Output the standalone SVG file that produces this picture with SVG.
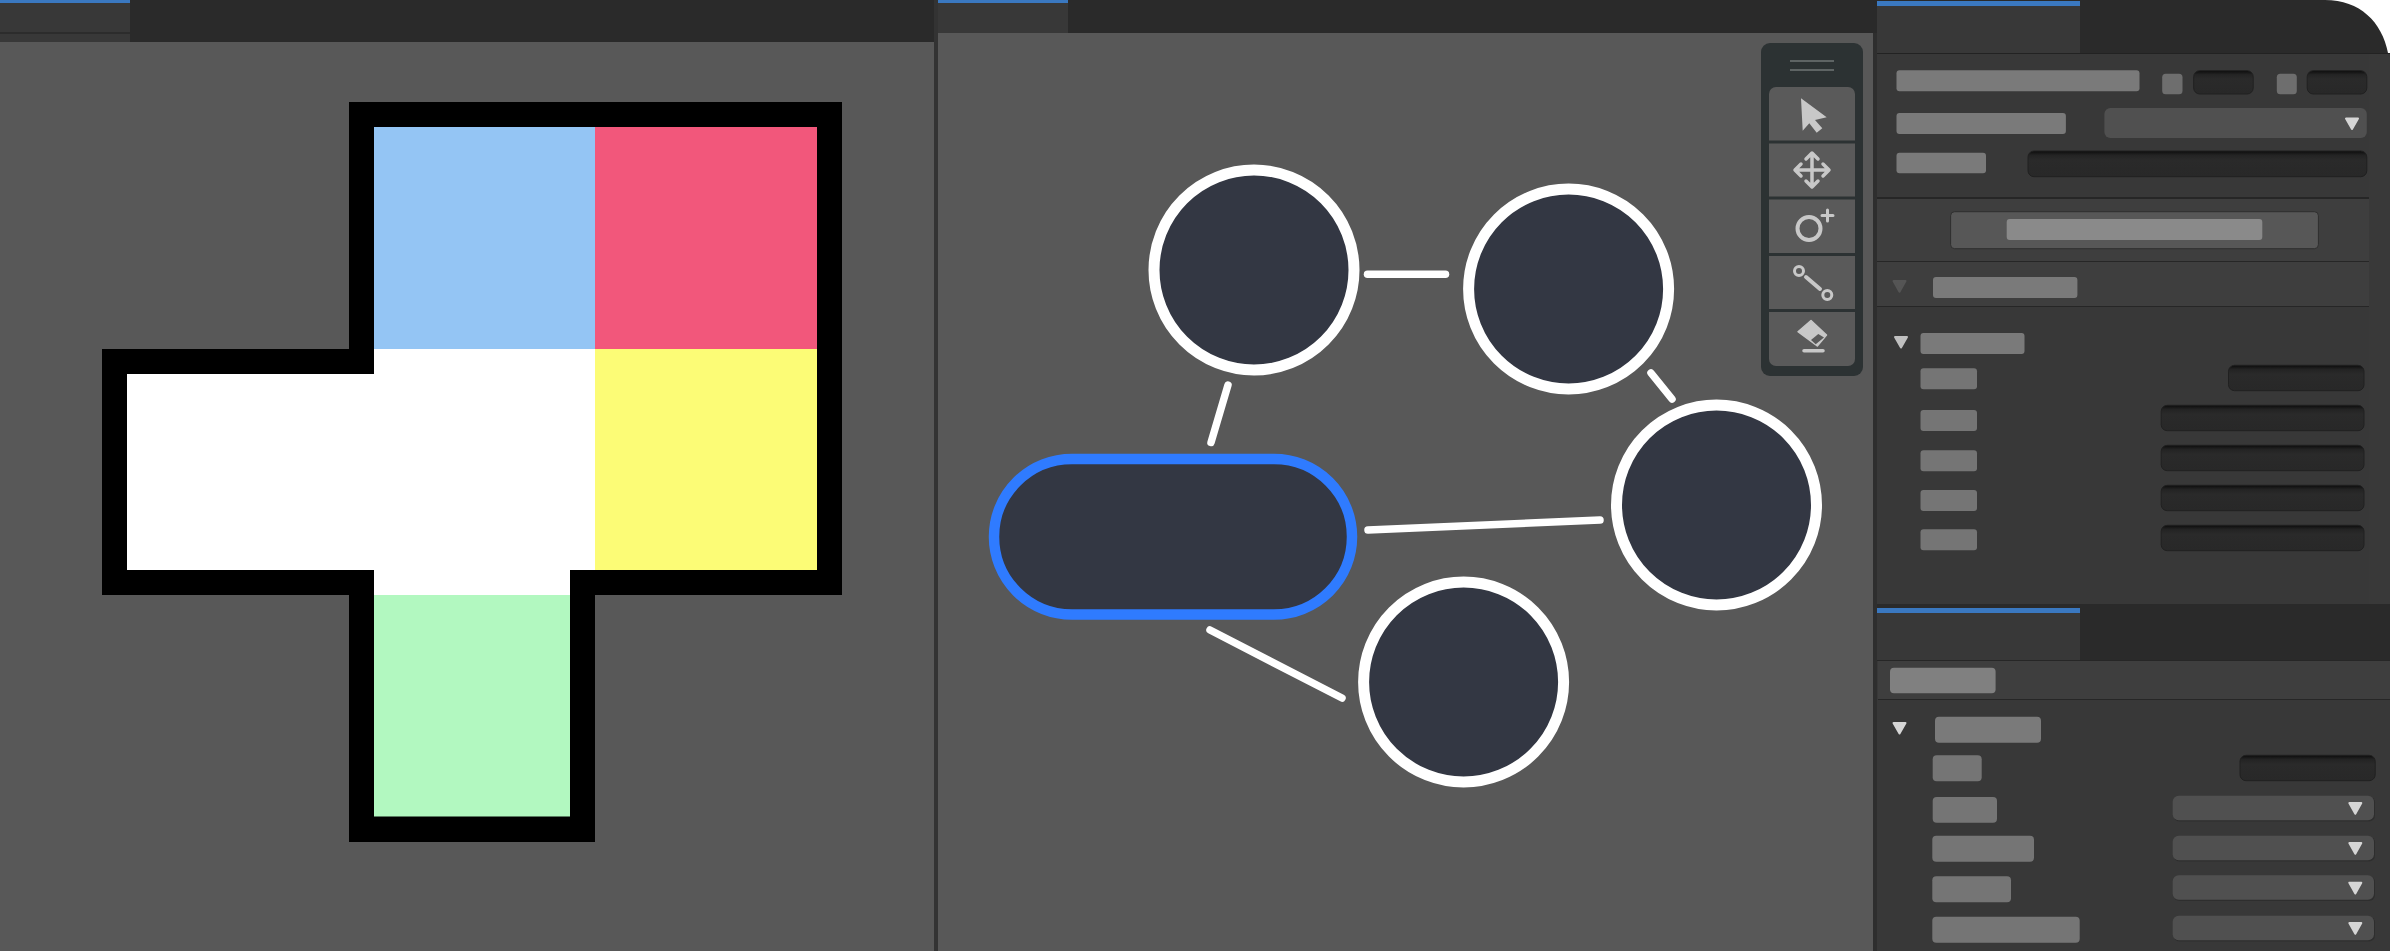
<svg xmlns="http://www.w3.org/2000/svg" width="2390" height="951" viewBox="0 0 2390 951">
<style>
.lb{fill:#7a7a7a}
.lc{fill:#757575}
.in{fill:url(#inset);stroke:#202020;stroke-width:1}
.sel{fill:#505050}
.sh{fill:#2e2e2e}
.tri{fill:#d6d6d6;stroke:#d6d6d6;stroke-width:2;stroke-linejoin:round}
.blue{fill:#3a78c0}
.tab{fill:#383838}
.node{fill:#333743;stroke:#fff;stroke-width:11}
.edge{fill:none;stroke:#fff;stroke-width:7.500;stroke-linecap:round}
.ic{fill:none;stroke:#c8c8c8;stroke-linecap:round;stroke-linejoin:round}
.icf{fill:#c8c8c8}
.btn{fill:#5a5a5a}
.div{fill:#262626}
</style>
<defs>
<linearGradient id="inset" x1="0" y1="0" x2="0" y2="1">
<stop offset="0" stop-color="#0c0c0c"/><stop offset="0.16" stop-color="#232323"/><stop offset="0.35" stop-color="#2a2a2a"/><stop offset="1" stop-color="#282828"/>
</linearGradient>
</defs>
<rect width="2390" height="951" fill="#383838"/>
<g id="left-panel">
<rect x="0" y="0" width="938" height="42" fill="#2a2a2a"/>
<rect x="0" y="0" width="130" height="42" class="tab"/>
<rect x="0" y="32" width="130" height="2" fill="#2c2c2c"/>
<rect x="0" y="0" width="130" height="3" class="blue"/>
<rect x="0" y="42" width="934" height="909" fill="#585858"/>
<rect x="934" y="0" width="4" height="951" fill="#333"/>
</g>
<g id="shape">
<path d="M349 102H842V595H595V842H349V595H102V349H349Z" fill="#000"/>
<rect x="374" y="127" width="221" height="222" fill="#94c5f4"/>
<rect x="595" y="127" width="222" height="222" fill="#f2577b"/>
<rect x="595" y="349" width="222" height="221" fill="#fcfc76"/>
<path d="M374 349H595V570H570V595H374V570H127V374H374Z" fill="#fff"/>
<rect x="374" y="595" width="196" height="221.500" fill="#b2f8c0"/>
</g>
<g id="graph-panel">
<rect x="938" y="0" width="939" height="33" fill="#2a2a2a"/>
<rect x="938" y="0" width="130" height="33" class="tab"/>
<rect x="938" y="0" width="130" height="3" class="blue"/>
<rect x="938" y="33" width="935" height="918" fill="#585858"/>
<rect x="1873" y="33" width="4" height="918" fill="#2e2e2e"/>
</g>
<g id="connectors">
<path class="edge" d="M1367.500 274.300H1445.500"/>
<path class="edge" d="M1228 385L1211 442.500"/>
<path class="edge" d="M1651 373L1672 399"/>
<path class="edge" d="M1368 530L1600 520"/>
<path class="edge" d="M1210 630L1342 698"/>
</g>
<g id="node-top-left"><circle class="node" cx="1254" cy="270" r="100"/></g>
<g id="node-top-right"><circle class="node" cx="1568.600" cy="289" r="100"/></g>
<g id="node-right"><circle class="node" cx="1716.500" cy="505" r="100"/></g>
<g id="node-bottom"><circle class="node" cx="1463.600" cy="682" r="100"/></g>
<g id="node-selected"><rect x="994" y="459" width="358" height="155.500" rx="78" fill="#333743" stroke="#2f7bff" stroke-width="10.500"/></g>
<g id="toolbar">
<rect x="1761" y="43" width="102" height="333" rx="9" fill="#2c3233"/>
<path d="M1790 61H1834M1790 70H1834" stroke="#5e6464" stroke-width="2"/>
<path class="btn" d="M1769 140.500V94a7 7 0 0 1 7-7H1848a7 7 0 0 1 7 7V140.500Z"/>
<rect class="btn" x="1769" y="143.500" width="86" height="53"/>
<rect class="btn" x="1769" y="199.500" width="86" height="53.500"/>
<rect class="btn" x="1769" y="256" width="86" height="53"/>
<path class="btn" d="M1769 312H1855V359a7 7 0 0 1-7 7H1776a7 7 0 0 1-7-7Z"/>
<polygon class="icf" points="1801,98.300 1826.700,117.300 1815,120 1822.300,128.300 1816.700,132.700 1809.300,123.300 1802.700,130.700"/>
<path class="ic" stroke-width="3.500" d="M1796 170H1828M1812 154V186M1806 159L1812 153L1818 159M1806 181L1812 187L1818 181M1801 164L1795 170L1801 176M1823 164L1829 170L1823 176"/>
<circle class="ic" stroke-width="4" cx="1809" cy="228.500" r="11.500"/>
<path class="ic" stroke-width="3" d="M1822 215.500H1833M1827.500 210V221"/>
<circle class="ic" stroke-width="3" cx="1799" cy="271" r="4.500"/>
<circle class="ic" stroke-width="3" cx="1827.300" cy="295" r="4.500"/>
<path class="ic" stroke-width="4" d="M1806 277L1820 289"/>
<polygon class="icf" stroke="#c8c8c8" stroke-width="1.500" stroke-linejoin="round" points="1811,320.500 1826.500,335 1817.300,346 1798,331.700"/>
<polygon points="1818.300,334 1824,337.500 1815.700,344.300 1811,340" fill="#5a5a5a"/>
<path class="ic" stroke-width="3.500" d="M1804 350.700H1823"/>
</g>
<g id="properties-top">
<rect x="1877" y="0" width="513" height="53" fill="#2a2a2a"/>
<rect x="1877" y="1" width="203" height="52" class="tab"/>
<rect x="1877" y="1" width="203" height="5" class="blue"/>
<path d="M2325 0H2390V53H2388C2382 22 2360 0 2325 0Z" fill="#fff"/>
<rect x="1877" y="53" width="513" height="551" fill="#393939"/>
<rect x="1877" y="53" width="492" height="551" fill="#383838"/>
<rect x="1877" y="53" width="513" height="1" fill="#222"/>
<rect x="1877" y="198" width="492" height="63" fill="#3e3e3e"/>
<rect x="1877" y="262" width="492" height="44" fill="#3e3e3e"/>
<rect class="div" x="1877" y="197" width="492" height="2"/>
<rect class="div" x="1877" y="261" width="492" height="1"/>
<rect class="div" x="1877" y="306" width="492" height="1"/>
<rect class="lb" x="1896.500" y="70.300" width="243" height="21" rx="3"/>
<rect x="2162.200" y="73.700" width="20.300" height="20.600" rx="3.500" fill="#6e6e6e"/>
<rect class="in" x="2193.700" y="70.700" width="59.500" height="23.300" rx="6"/>
<rect x="2276.800" y="73.700" width="20" height="20.600" rx="3.500" fill="#6e6e6e"/>
<rect class="in" x="2307.200" y="70.700" width="59.600" height="23.300" rx="6"/>
<rect class="lb" x="1896.500" y="113" width="169.400" height="21" rx="3"/>
<rect class="sel" x="2104.400" y="108" width="262.400" height="30" rx="6"/>
<polygon class="tri" points="2346,118.500 2358,118.500 2352,129"/>
<rect class="lb" x="1896.500" y="152.700" width="89.500" height="20.600" rx="3"/>
<rect class="in" x="2028" y="151" width="338.800" height="25.700" rx="6"/>
<rect x="1950.600" y="211.700" width="367.800" height="37" rx="4" fill="#575757" stroke="#2e2e2e"/>
<rect x="2006.700" y="219" width="255.600" height="21" rx="3" fill="#8a8a8a"/>
<polygon points="1893.500,281 1905.500,281 1899.500,291.700" fill="#555" stroke="#555" stroke-width="2" stroke-linejoin="round"/>
<rect class="lb" x="1933" y="277" width="144.400" height="21" rx="3"/>
<polygon class="tri" style="fill:#c0c0c0;stroke:#c0c0c0" points="1895,337 1907,337 1901,347.500"/>
<rect class="lb" x="1920.500" y="333" width="104" height="21" rx="3"/>
<rect class="lc" x="1920.500" y="368.300" width="56.500" height="21" rx="3"/>
<rect class="lc" x="1920.500" y="410" width="56.500" height="21" rx="3"/>
<rect class="lc" x="1920.500" y="450.300" width="56.500" height="21" rx="3"/>
<rect class="lc" x="1920.500" y="490" width="56.500" height="21" rx="3"/>
<rect class="lc" x="1920.500" y="529.300" width="56.500" height="21" rx="3"/>
<rect class="in" x="2228.500" y="365.300" width="135.500" height="25.400" rx="6"/>
<rect class="in" x="2161.200" y="405.300" width="202.800" height="25.400" rx="6"/>
<rect class="in" x="2161.200" y="445.300" width="202.800" height="25.400" rx="6"/>
<rect class="in" x="2161.200" y="485.300" width="202.800" height="25.400" rx="6"/>
<rect class="in" x="2161.200" y="525.300" width="202.800" height="25.400" rx="6"/>
</g>
<g id="properties-bottom">
<rect x="1877" y="604" width="513" height="57" fill="#2a2a2a"/>
<rect x="1877" y="608" width="203" height="52" class="tab"/>
<rect x="1877" y="608" width="203" height="5" class="blue"/>
<rect x="1878" y="661" width="512" height="38" fill="#3e3e3e"/>
<rect class="div" x="1877" y="660" width="513" height="1"/>
<rect class="div" x="1878" y="699" width="512" height="1"/>
<rect x="1890" y="667.700" width="105.600" height="25.600" rx="4" fill="#808080"/>
<polygon class="tri" points="1893.500,723 1905.500,723 1899.500,733.500"/>
<rect class="lb" x="1935" y="716.700" width="106" height="26" rx="4"/>
<rect class="lc" x="1932.700" y="755.300" width="49" height="26" rx="4"/>
<rect class="lc" x="1932.700" y="797" width="64.300" height="25.700" rx="4"/>
<rect class="lc" x="1932.300" y="835.700" width="101.700" height="26" rx="4"/>
<rect class="lc" x="1932.300" y="876.300" width="78.700" height="26" rx="4"/>
<rect class="lc" x="1932.300" y="916.700" width="147.400" height="26" rx="4"/>
<rect class="in" x="2240" y="755.300" width="135.200" height="25.400" rx="6"/>
<rect class="sh" x="2173.500" y="796.500" width="201.500" height="25" rx="6"/><rect class="sel" x="2172.700" y="795.700" width="201.300" height="24.500" rx="6"/>
<rect class="sh" x="2173.500" y="836.500" width="201.500" height="25" rx="6"/><rect class="sel" x="2172.700" y="835.700" width="201.300" height="24.500" rx="6"/>
<rect class="sh" x="2173.500" y="876" width="201.500" height="25" rx="6"/><rect class="sel" x="2172.700" y="875.300" width="201.300" height="24.500" rx="6"/>
<rect class="sh" x="2173.500" y="916.500" width="201.500" height="25" rx="6"/><rect class="sel" x="2172.700" y="915.700" width="201.300" height="24.500" rx="6"/>
<polygon class="tri" points="2349.300,803 2361.300,803 2355.300,813.700"/>
<polygon class="tri" points="2349.300,843 2361.300,843 2355.300,853.700"/>
<polygon class="tri" points="2349.300,882.700 2361.300,882.700 2355.300,893.400"/>
<polygon class="tri" points="2349.300,923 2361.300,923 2355.300,933.700"/>
</g>
</svg>
